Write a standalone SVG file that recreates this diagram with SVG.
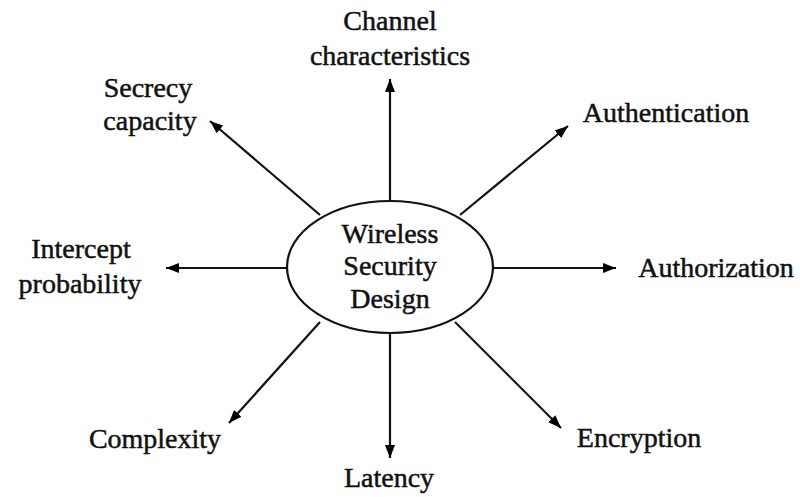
<svg xmlns="http://www.w3.org/2000/svg" width="800" height="497" viewBox="0 0 800 497">
<defs>
<marker id="ah" markerUnits="userSpaceOnUse" markerWidth="14" markerHeight="10" refX="13" refY="5" orient="auto">
<path d="M0,0 L13,5 L0,10 Z" fill="#000"/>
</marker>
<style>
.t{font-family:"Liberation Serif","Times New Roman",serif;font-size:28px;fill:#111;stroke:#111;stroke-width:0.5;text-anchor:middle}
.c{stroke:#111;stroke-width:2.2;fill:none;marker-end:url(#ah)}
</style>
</defs>
<rect width="800" height="497" fill="#fff"/>
<g id="connectors">
<line class="c" x1="390" y1="201" x2="390" y2="79"/>
<line class="c" x1="390" y1="333" x2="390" y2="458"/>
<line class="c" x1="287" y1="268" x2="166" y2="268"/>
<line class="c" x1="493" y1="268" x2="616" y2="268"/>
<line class="c" x1="320" y1="215" x2="210" y2="121"/>
<line class="c" x1="460" y1="215" x2="568" y2="126"/>
<line class="c" x1="320" y1="322" x2="229" y2="423"/>
<line class="c" x1="455" y1="322" x2="561" y2="428"/>
</g>
<g id="center">
<ellipse cx="390" cy="267" rx="103" ry="66" fill="#fff" stroke="#111" stroke-width="2.2"/>
<text class="t" x="390" y="243">Wireless</text>
<text class="t" x="390" y="275">Security</text>
<text class="t" x="390" y="308">Design</text>
</g>
<g id="channel"><text class="t" x="390" y="30">Channel</text><text class="t" x="390" y="65">characteristics</text></g>
<g id="secrecy"><text class="t" x="148" y="97">Secrecy</text><text class="t" x="150" y="130">capacity</text></g>
<g id="authentication"><text class="t" x="666" y="122">Authentication</text></g>
<g id="intercept"><text class="t" x="81" y="258">Intercept</text><text class="t" x="80" y="293">probability</text></g>
<g id="authorization"><text class="t" x="716" y="277">Authorization</text></g>
<g id="complexity"><text class="t" x="155" y="448">Complexity</text></g>
<g id="encryption"><text class="t" x="639" y="447">Encryption</text></g>
<g id="latency"><text class="t" x="389" y="487">Latency</text></g>
</svg>
